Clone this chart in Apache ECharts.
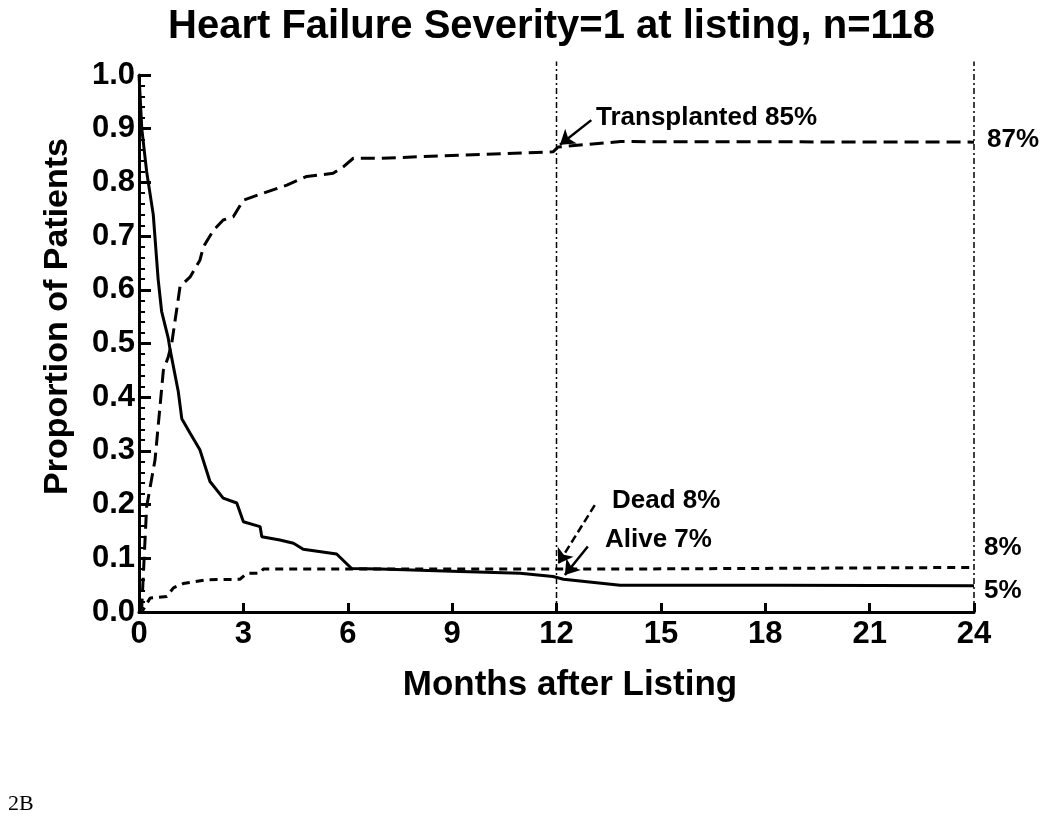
<!DOCTYPE html>
<html>
<head>
<meta charset="utf-8">
<script src="https://cdn.jsdelivr.net/npm/echarts@6/dist/echarts.min.js"></script>
<style>
  html, body { margin: 0; padding: 0; background: #fff; }
  #chart { width: 1050px; height: 821px; }
</style>
</head>
<body>
<div id="chart"></div>
<script>
// 数据: 月份 + 比例
const aliveMonths = [0, 0.08, 0.22, 0.41, 0.55, 0.65, 0.84, 0.89, 1.13, 1.23, 1.47, 1.75, 2.04, 2.42, 2.81, 3.0, 3.48, 3.53, 4.05, 4.44, 4.72, 5.68, 6.11, 6.93, 9.0, 10.95, 11.9, 12.2, 13.83, 18.3, 24]
const aliveValues = [1.0, 0.90, 0.82, 0.74, 0.62, 0.56, 0.51, 0.49, 0.41, 0.36, 0.333, 0.302, 0.243, 0.212, 0.203, 0.168, 0.159, 0.140, 0.134, 0.128, 0.117, 0.108, 0.081, 0.080, 0.076, 0.072, 0.066, 0.061, 0.050, 0.050, 0.049]

const txMonths = [0, 0.08, 0.22, 0.46, 0.70, 0.84, 0.94, 1.18, 1.47, 1.75, 1.85, 2.14, 2.42, 2.71, 3.0, 3.57, 4.25, 4.82, 5.58, 5.87, 6.16, 6.93, 11.9, 12.05, 13.85, 24]
const txValues = [0, 0.01, 0.196, 0.283, 0.45, 0.475, 0.50, 0.606, 0.624, 0.655, 0.680, 0.711, 0.730, 0.736, 0.767, 0.780, 0.795, 0.811, 0.817, 0.829, 0.845, 0.845, 0.857, 0.866, 0.876, 0.875]

const deadMonths = [0, 0.08, 0.32, 0.80, 0.99, 1.27, 1.95, 2.90, 3.10, 3.48, 3.57, 12, 13.9, 24]
const deadValues = [0, 0.0, 0.026, 0.029, 0.045, 0.053, 0.060, 0.061, 0.072, 0.072, 0.080, 0.080, 0.080, 0.083]

const xTicks = [0, 3, 6, 9, 12, 15, 18, 21, 24]
const yTicks = [0, 0.1, 0.2, 0.3, 0.4, 0.5, 0.6, 0.7, 0.8, 0.9, 1.0]

// 参考线与箭头 (数据坐标)
const refMonths = [12, 24]
const refTop = 1.025
const arrowTx = [[13.0, 0.916], [12.1, 0.870]]
const arrowDead = [[13.1, 0.199], [12.05, 0.090]]
const arrowAlive = [[12.9, 0.122], [12.24, 0.069]]

const zip = (xs, ys) => xs.map((x, i) => [x, ys[i]])

const font = 'Arial, "Liberation Sans", Helvetica, sans-serif'
const chart = echarts.init(document.getElementById('chart'))

// 竖直点划线 (12 月, 24 月)
const refSeries = refMonths.map((m) => ({
  type: 'line',
  data: [[m, 0], [m, refTop]],
  showSymbol: false,
  clip: false,
  silent: true,
  z: 1,
  lineStyle: { color: '#000', width: 1.5, type: [6, 3, 2, 3] },
}))

chart.setOption({
  animation: false,
  backgroundColor: '#fff',
  title: {
    text: 'Heart Failure Severity=1 at listing, n=118',
    left: 163,
    top: 2,
    textStyle: { fontFamily: font, fontSize: 40, fontWeight: 'bold', color: '#000' },
  },
  grid: { left: 139, right: 76, top: 75, bottom: 209, containLabel: false },
  xAxis: {
    type: 'value',
    min: xTicks[0],
    max: xTicks[xTicks.length - 1],
    interval: 3,
    name: 'Months after Listing',
    nameLocation: 'middle',
    nameGap: 56,
    nameTextStyle: { fontFamily: font, fontSize: 35, fontWeight: 'bold', color: '#000', padding: [0, 0, 0, 27] },
    axisLine: { lineStyle: { color: '#000', width: 3 } },
    axisTick: { inside: true, length: 9, lineStyle: { color: '#000', width: 3 } },
    axisLabel: { color: '#000', fontFamily: font, fontSize: 31, fontWeight: 'bold', margin: 7 },
    splitLine: { show: false },
  },
  yAxis: {
    type: 'value',
    min: yTicks[0],
    max: yTicks[yTicks.length - 1],
    interval: 0.1,
    name: 'Proportion of Patients',
    nameLocation: 'middle',
    nameGap: 64,
    nameTextStyle: { fontFamily: font, fontSize: 34, fontWeight: 'bold', color: '#000', padding: [0, 0, 0, 54] },
    axisLine: { show: true, lineStyle: { color: '#000', width: 3 } },
    axisTick: { show: true, inside: true, length: 12, lineStyle: { color: '#000', width: 3 } },
    minorTick: { show: true, splitNumber: 5, length: 6, lineStyle: { color: '#000', width: 2 } },
    axisLabel: {
      color: '#000', fontFamily: font, fontSize: 31, fontWeight: 'bold', margin: 4,
      formatter: (v) => v.toFixed(1),
    },
    splitLine: { show: false },
  },
  series: [
    ...refSeries,
    {
      name: 'Transplanted',
      type: 'line',
      data: zip(txMonths, txValues),
      showSymbol: false,
      clip: false,
      lineStyle: { color: '#000', width: 3, type: [14, 7] },
    },
    {
      name: 'Dead',
      type: 'line',
      data: zip(deadMonths, deadValues),
      showSymbol: false,
      clip: false,
      lineStyle: { color: '#000', width: 3, type: [8, 6] },
      markLine: {
        silent: true,
        symbol: ['none', 'arrow'],
        symbolSize: 14,
        label: { show: false },
        lineStyle: { color: '#000', width: 2.5, type: [8, 4] },
        data: [[{ coord: arrowDead[0] }, { coord: arrowDead[1] }]],
      },
    },
    {
      name: 'Alive',
      type: 'line',
      data: zip(aliveMonths, aliveValues),
      showSymbol: false,
      clip: false,
      lineStyle: { color: '#000', width: 3 },
      markLine: {
        silent: true,
        symbol: ['none', 'arrow'],
        symbolSize: 14,
        label: { show: false },
        lineStyle: { color: '#000', width: 2.5, type: 'solid' },
        data: [
          [{ coord: arrowAlive[0] }, { coord: arrowAlive[1] }],
          [{ coord: arrowTx[0] }, { coord: arrowTx[1] }],
        ],
      },
    },
  ],
  graphic: [
    { type: 'text', left: 596, top: 105, style: { text: 'Transplanted 85%', font: 'bold 26px ' + font, fill: '#000' } },
    { type: 'text', left: 612, top: 488, style: { text: 'Dead 8%', font: 'bold 26px ' + font, fill: '#000' } },
    { type: 'text', left: 605, top: 527, style: { text: 'Alive 7%', font: 'bold 26px ' + font, fill: '#000' } },
    { type: 'text', left: 987, top: 127, style: { text: '87%', font: 'bold 26px ' + font, fill: '#000' } },
    { type: 'text', left: 984, top: 535, style: { text: '8%', font: 'bold 26px ' + font, fill: '#000' } },
    { type: 'text', left: 984, top: 578, style: { text: '5%', font: 'bold 26px ' + font, fill: '#000' } },
    { type: 'text', left: 8, top: 793, style: { text: '2B', font: '22px "Liberation Serif", "Times New Roman", serif', fill: '#000' } },
  ],
})
</script>
</body>
</html>
